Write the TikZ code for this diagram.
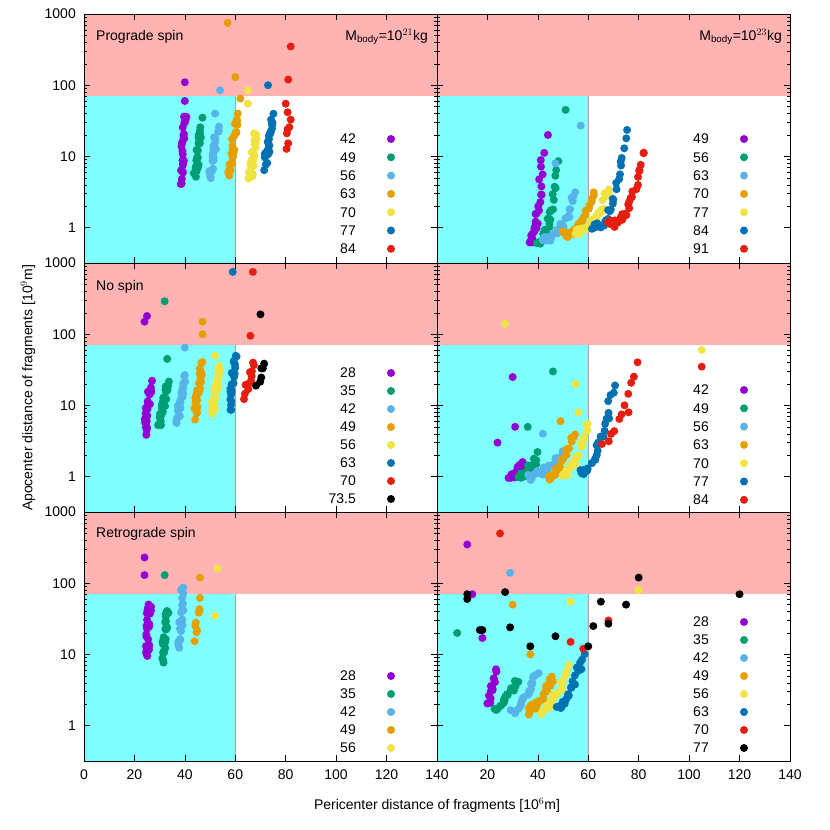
\documentclass[tikz,border=0pt]{standalone}
\usepackage{fontspec}
\setmainfont{Liberation Sans}
\definecolor{cP}{HTML}{9400D3}\definecolor{cG}{HTML}{009E73}\definecolor{cL}{HTML}{56B4E9}
\definecolor{cO}{HTML}{E69F00}\definecolor{cY}{HTML}{F0E442}\definecolor{cB}{HTML}{0072B2}
\definecolor{cR}{HTML}{E51E10}\definecolor{cK}{HTML}{000000}
\definecolor{pinkbg}{HTML}{FFB3B3}\definecolor{cyanbg}{HTML}{80FFFF}
\newcommand\clus[9]{\foreach \i in {0,...,#8}{\pgfmathsetmacro\myt{\i/#8}\pgfmathsetmacro\xx{#4+(#5-#4)*\myt+0.8*rand}\pgfmathsetmacro\ll{#6+(#7-#6)*pow(\myt,#9)+0.05*rand}\fill[#1] ({84+#2*353+\xx*2.521},{14+#3*249+(3-\ll)*71.2}) circle (4);}}
\newcommand\dotp[5]{\pgfmathsetmacro\ll{log10(#5)}\fill[#1] ({84+#2*353+#4*2.521},{14+#3*249+(3-\ll)*71.2}) circle (4);}
\begin{document}
\begin{tikzpicture}[x=1pt,y=-1pt,font=\fontsize{14}{16}\selectfont,
 lab/.style={anchor=west,inner sep=0}, leg/.style={anchor=east,inner sep=0}]
\useasboundingbox (0,0) rectangle (830,830);
\pgfmathsetseed{7}
% backgrounds
\foreach \r in {0,1,2}{\foreach \c in {0,1}{
 \fill[pinkbg] ({84+\c*353},{14+\r*249}) rectangle ({437+\c*353},{14+\r*249+82});
 \fill[cyanbg] ({84+\c*353},{14+\r*249+82}) rectangle ({84+\c*353+151},{14+\r*249+249});
 \draw[gray!70,thin] ({84+\c*353+151},{14+\r*249+82}) -- ({84+\c*353+151},{14+\r*249+249});
}}
% TL
\clus{cP}{0}{0}{38.5}{40}{0.6}{1.6}{24}{1}\dotp{cP}{0}{0}{40}{110}\dotp{cP}{0}{0}{40}{60}
\clus{cG}{0}{0}{44}{46.5}{0.7}{1.4}{24}{1}\dotp{cG}{0}{0}{47}{35}
\clus{cL}{0}{0}{50}{53}{0.7}{1.4}{24}{1}\dotp{cL}{0}{0}{54}{85}\dotp{cL}{0}{0}{52}{40}
\clus{cO}{0}{0}{57.5}{60.5}{0.7}{1.5}{24}{1}\dotp{cO}{0}{0}{57}{750}\dotp{cO}{0}{0}{60}{130}\dotp{cO}{0}{0}{62}{65}\dotp{cO}{0}{0}{61}{40}
\clus{cY}{0}{0}{66}{68}{0.7}{1.3}{22}{1}\dotp{cY}{0}{0}{65}{85}\dotp{cY}{0}{0}{65}{55}
\clus{cB}{0}{0}{72}{74.5}{0.85}{1.55}{22}{1}\dotp{cB}{0}{0}{73}{100}
\clus{cR}{0}{0}{80}{81.5}{1.15}{1.6}{6}{1}\dotp{cR}{0}{0}{82}{350}\dotp{cR}{0}{0}{81}{120}\dotp{cR}{0}{0}{80}{55}
% TR
\clus{cP}{1}{0}{37}{42}{-0.2}{1.0}{26}{2}\dotp{cP}{1}{0}{44}{20}
\clus{cG}{1}{0}{40}{48}{-0.2}{0.9}{26}{2.5}\dotp{cG}{1}{0}{51}{45}
\clus{cL}{1}{0}{42}{55}{-0.15}{0.5}{26}{2.5}\dotp{cL}{1}{0}{57}{27}\dotp{cL}{1}{0}{47}{8}
\clus{cO}{1}{0}{50}{62}{-0.1}{0.5}{26}{2.5}
\clus{cY}{1}{0}{55}{68}{-0.05}{0.55}{26}{2.5}
\clus{cB}{1}{0}{62}{75}{0}{1.35}{28}{2.5}
\clus{cR}{1}{0}{68}{82}{0.05}{1.1}{28}{2.5}
% ML
\clus{cP}{0}{1}{24}{26.5}{0.6}{1.3}{22}{1}\dotp{cP}{0}{1}{25}{180}\dotp{cP}{0}{1}{24}{150}
\clus{cG}{0}{1}{30}{33}{0.7}{1.3}{22}{1}\dotp{cG}{0}{1}{32}{290}\dotp{cG}{0}{1}{33}{45}
\clus{cL}{0}{1}{37}{40}{0.8}{1.4}{22}{1}\dotp{cL}{0}{1}{40}{65}
\clus{cO}{0}{1}{44}{47}{0.85}{1.6}{22}{1}\dotp{cO}{0}{1}{47}{150}\dotp{cO}{0}{1}{47}{100}
\clus{cY}{0}{1}{51}{54}{0.9}{1.55}{22}{1}\dotp{cY}{0}{1}{52}{50}
\clus{cB}{0}{1}{58}{60}{0.95}{1.7}{22}{1}\dotp{cB}{0}{1}{59}{750}
\clus{cR}{0}{1}{64}{67}{1.1}{1.6}{10}{1}\dotp{cR}{0}{1}{67}{750}\dotp{cR}{0}{1}{66}{95}
\clus{cK}{0}{1}{69}{71}{1.3}{1.6}{5}{1}\dotp{cK}{0}{1}{70}{190}
% MR
\clus{cP}{1}{1}{29}{34}{-0.05}{0.2}{16}{1}\dotp{cP}{1}{1}{24}{3}\dotp{cP}{1}{1}{31}{5}\dotp{cP}{1}{1}{30}{25}
\clus{cG}{1}{1}{32}{40}{0}{0.3}{20}{2}\dotp{cG}{1}{1}{46}{30}\dotp{cG}{1}{1}{36}{5}
\clus{cL}{1}{1}{36}{50}{0}{0.35}{22}{2}\dotp{cL}{1}{1}{42}{4}
\clus{cO}{1}{1}{44}{54}{0}{0.6}{22}{2}\dotp{cO}{1}{1}{49}{6}
\clus{cY}{1}{1}{50}{60}{0.05}{0.75}{22}{2}\dotp{cY}{1}{1}{27}{140}\dotp{cY}{1}{1}{105}{60}\dotp{cY}{1}{1}{55}{20}\dotp{cY}{1}{1}{56}{8}
\clus{cB}{1}{1}{57}{70}{0.05}{1.3}{26}{2}
\clus{cR}{1}{1}{66}{80}{0.5}{1.6}{10}{1.5}\dotp{cR}{1}{1}{105}{35}\dotp{cR}{1}{1}{76}{8}
% BL
\clus{cP}{0}{2}{25}{26}{0.95}{1.75}{22}{1}\dotp{cP}{0}{2}{24}{230}\dotp{cP}{0}{2}{24}{130}
\clus{cG}{0}{2}{31}{33}{0.9}{1.65}{22}{1}\dotp{cG}{0}{2}{32}{130}
\clus{cL}{0}{2}{38}{39}{1.1}{1.9}{20}{1}
\clus{cO}{0}{2}{44.5}{45.5}{1.2}{1.75}{8}{1}\dotp{cO}{0}{2}{46}{120}
\dotp{cY}{0}{2}{52}{35}\dotp{cY}{0}{2}{53}{160}
% BR
\clus{cP}{1}{2}{20}{24}{0.3}{0.75}{12}{1}\dotp{cP}{1}{2}{12}{350}\dotp{cP}{1}{2}{18}{17}\dotp{cP}{1}{2}{14}{70}
\clus{cG}{1}{2}{23}{32}{0.2}{0.6}{18}{1}\dotp{cG}{1}{2}{8}{20}
\clus{cL}{1}{2}{30}{40}{0.2}{0.75}{20}{1.5}\dotp{cL}{1}{2}{29}{140}
\clus{cO}{1}{2}{36}{46}{0.2}{0.7}{20}{1.5}\dotp{cO}{1}{2}{30}{50}\dotp{cO}{1}{2}{37}{10}
\clus{cY}{1}{2}{42}{52}{0.2}{0.8}{20}{1.5}\dotp{cY}{1}{2}{53}{55}\dotp{cY}{1}{2}{80}{80}
\clus{cB}{1}{2}{48}{58}{0.25}{1.0}{20}{1.5}
\dotp{cR}{1}{2}{25}{500}\dotp{cR}{1}{2}{53}{15}\dotp{cR}{1}{2}{58}{12}\dotp{cR}{1}{2}{68}{30}
\foreach \x/\y in {12/70,12/60,18/22,17/22,27/75,29/24,37/13,47/18,60/13,62/25,65/55,68/27,75/50,80/120,120/70}{\dotp{cK}{1}{2}{\x}{\y}}
% frames and ticks
\foreach \r in {0,1,2}{\foreach \c in {0,1}{
 \draw[black,thin] ({84+\c*353},{14+\r*249}) rectangle ({437+\c*353},{14+\r*249+249});
 \foreach \k in {1,2,3,4,5,6}{\draw ({84+\c*353+\k*50.42},{14+\r*249+249}) -- ++(0,-6) ({84+\c*353+\k*50.42},{14+\r*249}) -- ++(0,6);}
 \foreach \d in {0,1,2,3}{\draw ({84+\c*353},{14+\r*249+\d*71.2}) -- ++(6,0) ({437+\c*353},{14+\r*249+\d*71.2}) -- ++(-6,0);
  \foreach \m in {2,...,9}{\pgfmathsetmacro\yy{14+\r*249+\d*71.2-log10(\m)*71.2}
   \pgfmathparse{\yy>14+\r*249?1:0}\ifnum\pgfmathresult=1 \draw ({84+\c*353},\yy) -- ++(3,0) ({437+\c*353},\yy) -- ++(-3,0);\fi}}
}
 \foreach \d/\t in {0/1000,1/100,2/10,3/1}{\node[anchor=east,inner sep=0] at (76,{14+\r*249+\d*71.2}) {\t};}
}
\foreach \k in {0,20,...,140}{\node[anchor=north,inner sep=0] at ({84+\k*2.521},770) {\k};}
\foreach \k in {20,40,...,140}{\node[anchor=north,inner sep=0] at ({437+\k*2.521},770) {\k};}
\node at (437,805) {Pericenter distance of fragments [10$^{6}$m]};
\node[rotate=90] at (28,388) {Apocenter distance of fragments [10$^{9}$m]};
\node[lab] at (96,37) {Prograde spin};
\node[lab] at (96,287) {No spin};
\node[lab] at (96,534) {Retrograde spin};
\node[anchor=east,inner sep=0] at (428,37) {M$_{\mathrm{body}}$=10$^{21}$kg};
\node[anchor=east,inner sep=0] at (782,37) {M$_{\mathrm{body}}$=10$^{23}$kg};
% legends
\foreach \t/\cc [count=\n from 0] in {42/cP,49/cG,56/cL,63/cO,70/cY,77/cB,84/cR}{\node[leg] at (356,{139+\n*18.3}) {\t};\fill[\cc] (391,{139+\n*18.3}) circle (4);}
\foreach \t/\cc [count=\n from 0] in {49/cP,56/cG,63/cL,70/cO,77/cY,84/cB,91/cR}{\node[leg] at (709,{139+\n*18.3}) {\t};\fill[\cc] (744,{139+\n*18.3}) circle (4);}
\foreach \t/\cc [count=\n from 0] in {28/cP,35/cG,42/cL,49/cO,56/cY,63/cB,70/cR,73.5/cK}{\node[leg] at (356,{373+\n*18}) {\t};\fill[\cc] (391,{373+\n*18}) circle (4);}
\foreach \t/\cc [count=\n from 0] in {42/cP,49/cG,56/cL,63/cO,70/cY,77/cB,84/cR}{\node[leg] at (709,{390+\n*18.3}) {\t};\fill[\cc] (744,{390+\n*18.3}) circle (4);}
\foreach \t/\cc [count=\n from 0] in {28/cP,35/cG,42/cL,49/cO,56/cY}{\node[leg] at (356,{676+\n*18}) {\t};\fill[\cc] (391,{676+\n*18}) circle (4);}
\foreach \t/\cc [count=\n from 0] in {28/cP,35/cG,42/cL,49/cO,56/cY,63/cB,70/cR,77/cK}{\node[leg] at (709,{622+\n*18}) {\t};\fill[\cc] (744,{622+\n*18}) circle (4);}
\end{tikzpicture}
\end{document}
